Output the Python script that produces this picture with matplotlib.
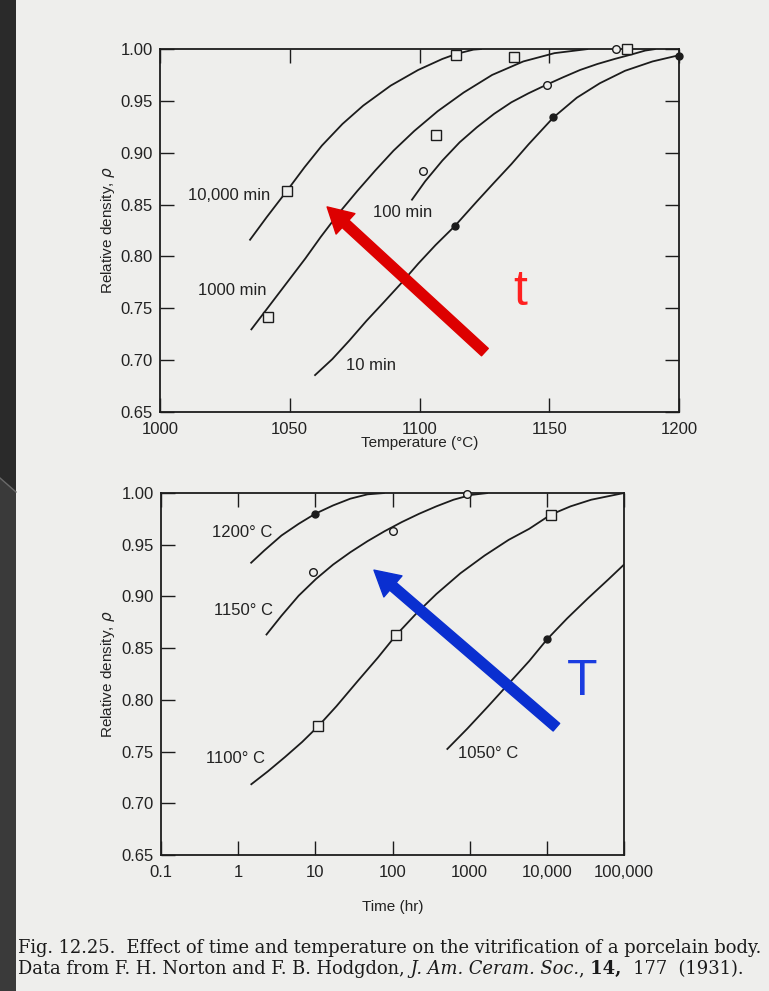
import numpy as np
import matplotlib.pyplot as plt
from matplotlib.patches import Rectangle, Polygon
from matplotlib.lines import Line2D
from matplotlib.transforms import IdentityTransform

# ---------------- top panel: relative density vs temperature (firing time in min)
temp_10min = [1059.5, 1066.4, 1073.0, 1079.6, 1086.3, 1092.9, 1099.5, 1106.2, 1113.5, 1122.1,
              1128.7, 1135.4, 1142.0, 1151.6, 1160.6, 1169.5, 1179.2, 1189.8, 1200.0]
rho_10min = [0.685, 0.701, 0.719, 0.738, 0.756, 0.774, 0.793, 0.811, 0.829, 0.853,
             0.871, 0.889, 0.908, 0.934, 0.953, 0.967, 0.979, 0.988, 0.994]

temp_100min = [1096.9, 1102.2, 1108.8, 1115.5, 1122.1, 1128.7, 1135.4, 1142.0, 1149.0, 1155.3,
               1161.9, 1168.5, 1175.2, 1181.8, 1187.0, 1191.0]
rho_100min = [0.854, 0.8725, 0.8924, 0.9101, 0.9245, 0.9374, 0.9486, 0.9573, 0.9656, 0.9727,
              0.9798, 0.9855, 0.9904, 0.9948, 0.9985, 1.000]

temp_1000min = [1035, 1042, 1049, 1056, 1062, 1069, 1076, 1083, 1090, 1098, 1107, 1117, 1128,
                1140, 1152, 1165]
rho_1000min = [0.729, 0.752, 0.775, 0.798, 0.819, 0.842, 0.863, 0.883, 0.902, 0.921, 0.940,
               0.958, 0.975, 0.988, 0.996, 1.000]

temp_10000min = [1034.5, 1041.1, 1048.8, 1055.7, 1062.4, 1070.3, 1078.3, 1088.9, 1099.5,
                 1108.8, 1114.1, 1120.8, 1124.0]
rho_10000min = [0.8154, 0.8378, 0.8629, 0.8860, 0.9069, 0.9277, 0.9454, 0.9647, 0.9798,
                0.9904, 0.9952, 0.9994, 1.000]

# measured points
sq_temp = [1048.8, 1114.1, 1041.5, 1106.2, 1136.3, 1179.8]
sq_rho = [0.863, 0.9945, 0.742, 0.917, 0.992, 1.000]
oc_temp = [1101.3, 1149.0, 1175.8]
oc_rho = [0.882, 0.9656, 1.000]
fc_temp = [1113.5, 1151.6, 1200.0]
fc_rho = [0.829, 0.934, 0.9936]

# ---------------- bottom panel: relative density vs time (hr), one curve per temperature
time_1200 = [1.445, 2.18, 3.64, 6.08, 9.95, 17.0, 28.4, 47.4, 79.2]
rho_1200 = [0.932, 0.9444, 0.9589, 0.9702, 0.9799, 0.9880, 0.9945, 0.9987, 1.000]

time_1150 = [2.29, 3.64, 6.08, 10.2, 17.0, 28.4, 47.4, 79.2, 132, 221, 370, 618, 1033, 1726]
rho_1150 = [0.8625, 0.8813, 0.9007, 0.9169, 0.9308, 0.9427, 0.9534, 0.9631, 0.9719, 0.9799,
            0.9871, 0.9935, 0.9981, 1.000]

time_1100 = [1.45, 2.42, 4.04, 6.75, 10.9, 18.8, 34.8, 64.6, 111, 200, 370, 759, 1560,
             3200, 5920, 11200, 20300, 37600, 100000]
rho_1100 = [0.7179, 0.7308, 0.7447, 0.7593, 0.7745, 0.7939, 0.8175, 0.8408, 0.8625, 0.8829,
            0.9023, 0.9224, 0.9395, 0.9547, 0.9654, 0.979, 0.9871, 0.9935, 1.000]

time_1050 = [504, 933, 1726, 3200, 5920, 10090, 18300, 34000, 62800, 100000]
rho_1050 = [0.7519, 0.7722, 0.7936, 0.8156, 0.8376, 0.8586, 0.8787, 0.8981, 0.9165, 0.9308]

t_fc = [10.0, 10090]
r_fc = [0.980, 0.8586]
t_oc = [9.2, 102.6, 915]
r_oc = [0.9233, 0.9628, 0.9987]
t_sq = [10.9, 111, 11200]
r_sq = [0.7745, 0.8625, 0.979]

temp_ticks = [1000, 1050, 1100, 1150, 1200]
rho_ticks = [0.65, 0.70, 0.75, 0.80, 0.85, 0.90, 0.95, 1.00]
time_ticks = [0.1, 1, 10, 100, 1000, 10000, 100000]
time_tick_labels = ['0.1', '1', '10', '100', '1000', '10,000', '100,000']

W, H = 769, 991
PAGE = '#eeeeec'
INK = '#1c1c1c'
SANS = ['Liberation Sans', 'DejaVu Sans']

fig = plt.figure(figsize=(W / 100, H / 100), dpi=100, facecolor=PAGE)

# dark slide border on the left
fig.patches.append(Rectangle((0, 0), 16, H, transform=IdentityTransform(),
                             facecolor='#2a2a2a', edgecolor='none', zorder=0))
fig.patches.append(Polygon([(0, 0), (16, 0), (16, H - 492), (0, H - 478)], closed=True,
                           transform=IdentityTransform(), facecolor='#3a3a3a',
                           edgecolor='none', zorder=0))
fig.lines.append(Line2D([0, 16], [H - 478, H - 492], transform=IdentityTransform(),
                        color='#6a6a6a', lw=1.0))


def px_axes(left, top, right, bottom):
    return fig.add_axes([left / W, 1 - bottom / H, (right - left) / W, (bottom - top) / H])


def style_axes(ax, right_ticks, ylabel_x):
    ax.set_facecolor('none')
    for s in ax.spines.values():
        s.set_linewidth(1.3)
        s.set_color(INK)
    ax.tick_params(direction='in', length=10, width=1.0, color=INK, top=True,
                   right=right_ticks, labelsize=12, labelcolor='#222222', pad=5)
    ax.tick_params(axis='x', pad=7)
    ax.set_yticks(rho_ticks)
    ax.set_yticklabels([f'{v:.2f}' for v in rho_ticks], family=SANS)
    ax.set_ylim(0.65, 1.00)
    ax.set_ylabel('Relative density, $\\rho$', family=SANS, fontsize=11, color='#222222',
                  va='center')
    ax.yaxis.set_label_coords(ylabel_x, 0.5)


line_kw = dict(color=INK, lw=1.3, solid_capstyle='butt')
sq_kw = dict(ls='none', marker='s', ms=6.5, mfc=PAGE, mec=INK, mew=1.0, clip_on=False, zorder=4)
oc_kw = dict(ls='none', marker='o', ms=5.5, mfc=PAGE, mec=INK, mew=1.0, clip_on=False, zorder=4)
fc_kw = dict(ls='none', marker='o', ms=5, mfc=INK, mec=INK, clip_on=False, zorder=4)
lab_kw = dict(fontsize=12, family=SANS, color='#222222', ha='center', va='center')

# ---------------- top panel
ax1 = px_axes(160, 49, 679, 412)
style_axes(ax1, True, -52 / 519)
ax1.plot(temp_10min, rho_10min, **line_kw)
ax1.plot(temp_100min, rho_100min, **line_kw)
ax1.plot(temp_1000min, rho_1000min, **line_kw)
ax1.plot(temp_10000min, rho_10000min, **line_kw)
ax1.plot(sq_temp, sq_rho, **sq_kw)
ax1.plot(oc_temp, oc_rho, **oc_kw)
ax1.plot(fc_temp, fc_rho, **fc_kw)
ax1.set_xlim(1000, 1200)
ax1.set_xticks(temp_ticks)
ax1.set_xticklabels([str(v) for v in temp_ticks], family=SANS)
ax1.set_xlabel('Temperature (°C)', family=SANS, fontsize=11, color='#222222', va='center')
ax1.xaxis.set_label_coords(0.5, -0.085)

ax1.text(1026.5, 0.8587, '10,000 min', **lab_kw)
ax1.text(1027.9, 0.7672, '1000 min', **lab_kw)
ax1.text(1093.6, 0.8426, '100 min', **lab_kw)
ax1.text(1081.4, 0.6949, '10 min', **lab_kw)

ax1.annotate('', xy=(0.322, 0.565), xytext=(0.626, 0.165), xycoords='axes fraction',
             arrowprops=dict(arrowstyle='simple,head_length=0.9,head_width=1.0,tail_width=0.36',
                             mutation_scale=20, color='#dd0000', shrinkA=0, shrinkB=0))
ax1.text(0.694, 0.331, 't', transform=ax1.transAxes, fontsize=36, family=SANS,
         color='#ff2020', ha='center', va='center')

# ---------------- bottom panel
ax2 = px_axes(161, 493, 624, 855)
style_axes(ax2, False, -53 / 463)
ax2.set_xscale('log')
ax2.plot(time_1200, rho_1200, **line_kw)
ax2.plot(time_1150, rho_1150, **line_kw)
ax2.plot(time_1100, rho_1100, **line_kw)
ax2.plot(time_1050, rho_1050, **line_kw)
ax2.plot(t_sq, r_sq, **sq_kw)
ax2.plot(t_oc, r_oc, **oc_kw)
ax2.plot(t_fc, r_fc, **fc_kw)
ax2.set_xlim(0.1, 100000)
ax2.set_xticks(time_ticks)
ax2.set_xticklabels(time_tick_labels, family=SANS)
ax2.xaxis.set_minor_locator(plt.NullLocator())
ax2.set_xlabel('Time (hr)', family=SANS, fontsize=11, color='#222222', va='center')
ax2.xaxis.set_label_coords(0.5, -0.145)

ax2.text(1.12, 0.962, '1200° C', **lab_kw)
ax2.text(1.18, 0.886, '1150° C', **lab_kw)
ax2.text(0.91, 0.743, '1100° C', **lab_kw)
ax2.text(1726, 0.748, '1050° C', **lab_kw)

ax2.annotate('', xy=(0.460, 0.787), xytext=(0.854, 0.353), xycoords='axes fraction',
             arrowprops=dict(arrowstyle='simple,head_length=0.9,head_width=1.0,tail_width=0.36',
                             mutation_scale=20, color='#0a2fd0', shrinkA=0, shrinkB=0))
ax2.text(0.910, 0.479, 'T', transform=ax2.transAxes, fontsize=36, family=SANS,
         color='#1a3ce0', ha='center', va='center')

# ---------------- caption (serif, with italic journal and bold volume)
renderer = fig.canvas.get_renderer()
SERIF = ['DejaVu Serif']
cap_size = 12.9


def draw_runs(x, y, runs):
    for s, extra in runs:
        t = fig.text(x, y, s, transform=IdentityTransform(), family=SERIF, fontsize=cap_size,
                     color='#1a1a1a', va='baseline', ha='left', **extra)
        x += t.get_window_extent(renderer=renderer).width


draw_runs(18, H - 953, [('Fig. 12.25.  Effect of time and temperature on the vitrification '
                         'of a porcelain body.', {})])
draw_runs(18, H - 974, [('Data from F. H. Norton and F. B. Hodgdon,', {}),
                        (' J. Am. Ceram. Soc.', {'style': 'italic'}),
                        (',', {}),
                        (' 14,', {'weight': 'bold'}),
                        ('  177  (1931).', {})])

fig.savefig('out.png', dpi=100, facecolor=PAGE)
